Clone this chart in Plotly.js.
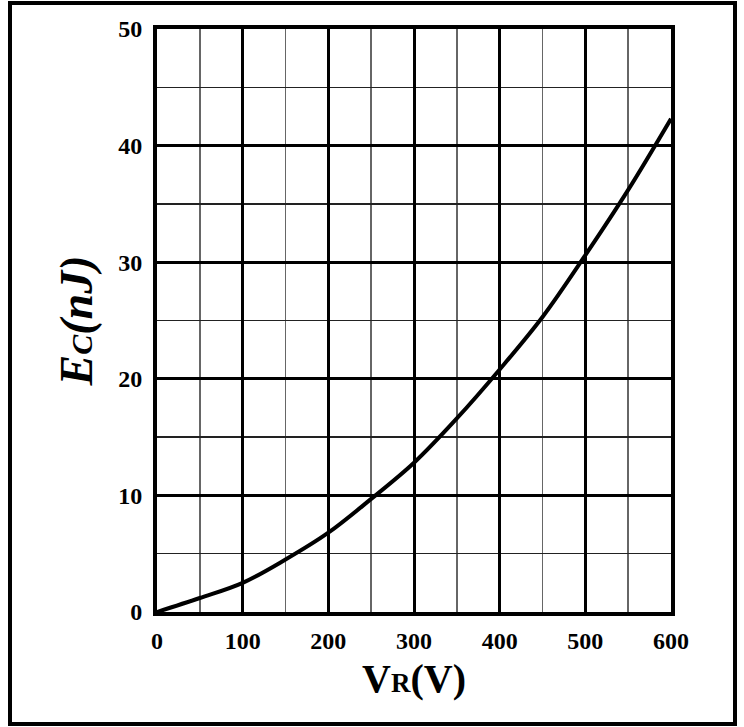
<!DOCTYPE html>
<html>
<head>
<meta charset="utf-8">
<script src="https://cdn.plot.ly/plotly-3.0.1.min.js"></script>
<style>body{margin:0;padding:0;background:#fff}#chart{width:744px;height:727px}</style>
</head>
<body>
<div id="chart"></div>
<script>
// Reverse voltage (V)
const voltage = [0, 50, 100, 150, 200, 250, 300, 350, 400, 450, 500, 550, 600];
// Capacitive stored energy Ec (nJ)
const energy = [0, 1.2, 2.5, 4.5, 6.8, 9.7, 12.8, 16.6, 20.8, 25.3, 30.6, 36.2, 42.3];
const xTicks = [0, 100, 200, 300, 400, 500, 600];
const yTicks = [0, 10, 20, 30, 40, 50];

const tickFont = {family: '"Liberation Serif", "Times New Roman", serif', size: 24, color: '#000', weight: 'bold'};

const trace = {
  x: voltage, y: energy, type: 'scatter', mode: 'lines',
  line: {color: '#000', width: 4, shape: 'spline', smoothing: 1},
  hoverinfo: 'skip', showlegend: false
};

const layout = {
  width: 744, height: 727,
  margin: {l: 157, r: 73, t: 29, b: 115},
  paper_bgcolor: '#fff', plot_bgcolor: '#fff',
  font: {family: '"Liberation Serif", "Times New Roman", serif', color: '#000'},
  xaxis: {
    range: [0, 600], tickvals: xTicks, ticktext: xTicks.map(String),
    showgrid: true, gridcolor: '#000', gridwidth: 3,
    minor: {dtick: 50, tick0: 0, showgrid: true, gridcolor: '#666', gridwidth: 1.5},
    showline: true, mirror: true, linecolor: '#000', linewidth: 4,
    zeroline: false, ticks: '', tickfont: tickFont, ticklabelstandoff: 4,
    fixedrange: true,
    title: {text: 'V<span style="font-size:27px">R</span>(V)', standoff: 12,
      font: {family: '"Liberation Serif", "Times New Roman", serif', size: 40, color: '#000', weight: 'bold'}}
  },
  yaxis: {
    range: [0, 50], tickvals: yTicks, ticktext: yTicks.map(String),
    showgrid: true, gridcolor: '#000', gridwidth: 3,
    minor: {dtick: 5, tick0: 0, showgrid: true, gridcolor: '#222', gridwidth: 1.5},
    showline: true, mirror: true, linecolor: '#000', linewidth: 4,
    zeroline: false, ticks: '', tickfont: tickFont, ticklabelstandoff: 6,
    fixedrange: true,
    title: {text: '<i>E<span style="font-size:30px">C</span>(nJ)</i>', standoff: 12,
      font: {family: '"Liberation Serif", "Times New Roman", serif', size: 46, color: '#000', weight: 'bold'}}
  },
  shapes: [{
    type: 'rect', xref: 'paper', yref: 'paper',
    x0: (10 - 157) / 514, x1: (735 - 157) / 514,
    y0: (612 - 724) / 583, y1: (612 - 3) / 583,
    line: {color: '#000', width: 4}, fillcolor: 'rgba(0,0,0,0)', layer: 'above'
  }]
};

Plotly.newPlot('chart', [trace], layout, {displayModeBar: false, staticPlot: true});
</script>
</body>
</html>
